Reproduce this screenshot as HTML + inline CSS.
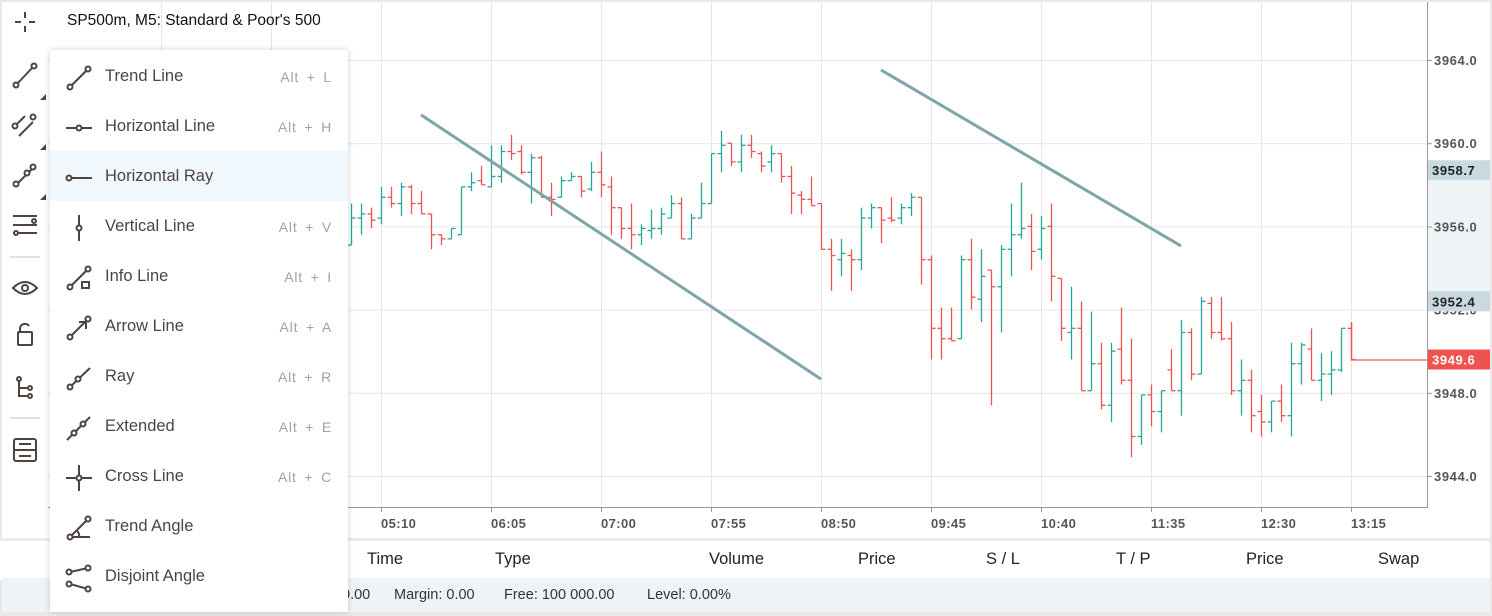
<!DOCTYPE html>
<html><head><meta charset="utf-8">
<style>
html,body{margin:0;padding:0;background:#e9e9e9;}
body{width:1492px;height:616px;position:relative;overflow:hidden;font-family:"Liberation Sans",sans-serif;}
#root{position:absolute;left:2px;top:2px;width:1488px;height:610px;background:#fff;}
.menu{position:absolute;left:50px;top:50px;width:298px;height:562px;background:#fff;box-shadow:0 0 6px rgba(0,0,0,0.18);}
.item{position:absolute;left:0;width:298px;height:50px;}
.item .lbl{position:absolute;left:55px;top:16px;font-size:16.5px;color:#4d4440;}
.item .sc{position:absolute;right:16px;top:18px;font-size:14px;color:#a7a09b;letter-spacing:0.8px;word-spacing:3px;}
.item svg{position:absolute;left:14px;top:12px;}
.hdr{position:absolute;top:550px;font-size:16.5px;color:#222;}
.ft{position:absolute;top:587px;font-size:14.5px;color:#333;}
</style></head><body>
<div id="root"></div>
<svg id="chart" width="1492" height="616" style="position:absolute;left:0;top:0"></svg>

<div style="position:absolute;left:0;top:538px;width:1490px;height:39px;background:#fff;border-top:3px solid #ececec;"></div>
<div style="position:absolute;left:2px;top:578px;width:1488px;height:34px;background:#eff3f7;"></div>
<span class="hdr" style="left:367px">Time</span>
<span class="hdr" style="left:495px">Type</span>
<span class="hdr" style="left:709px">Volume</span>
<span class="hdr" style="left:858px">Price</span>
<span class="hdr" style="left:986px">S / L</span>
<span class="hdr" style="left:1116px">T / P</span>
<span class="hdr" style="left:1246px">Price</span>
<span class="hdr" style="left:1378px">Swap</span>
<span class="ft" style="left:342px">0.00</span>
<span class="ft" style="left:394px">Margin: 0.00</span>
<span class="ft" style="left:504px">Free: 100 000.00</span>
<span class="ft" style="left:647px">Level: 0.00%</span>

<div style="position:absolute;left:67px;top:12px;font-size:15.5px;color:#111;">SP500m, M5: Standard &amp; Poor's 500</div>

<svg width="50" height="500" style="position:absolute;left:0;top:0" fill="none" stroke="#4d4440" stroke-width="2">
<g><path d="M25 12v6M25 26v6M15 22h6M29 22h6"/></g>
<g><path d="M17 84L33 67"/><circle cx="16" cy="85" r="2.5" fill="#fff"/><circle cx="34" cy="66" r="2.5" fill="#fff"/></g>
<g><path d="M13 128l12-12M19 136l14-14"/><circle cx="15" cy="126" r="2.5" fill="#fff"/><circle cx="33" cy="117" r="2.5" fill="#fff"/></g>
<g><path d="M15 186l20-20"/><circle cx="16" cy="184" r="2.5" fill="#fff"/><circle cx="27" cy="173" r="2.5" fill="#fff"/><circle cx="33" cy="167" r="2.5" fill="#fff"/></g>
<g><path d="M13 216h24M13 225h24M13 233h24"/><circle cx="34" cy="221" r="2" fill="#fff"/><circle cx="16" cy="233" r="2" fill="#fff"/></g>
<path d="M10 257h30M10 418h30" stroke="#e2e2e2"/>
<g><path d="M13 288q12-12 24 0q-12 12-24 0z"/><circle cx="25" cy="288" r="3"/></g>
<g><rect x="18" y="332" width="14" height="13" rx="1"/><path d="M20 332v-4a5 5 0 0 1 9-2"/></g>
<g><path d="M19 380v16h8M19 388h8"/><circle cx="19" cy="379" r="2"/><circle cx="30" cy="388" r="2"/><circle cx="30" cy="396" r="2"/></g>
<g><rect x="14" y="439" width="22" height="22" rx="2"/><path d="M14 450h22M19 444h12M19 456h12"/></g>
<path d="M40 100l6-6v6z M40 150l6-6v6z M40 200l6-6v6z" fill="#4d4440" stroke="none"/>
</svg>

<div class="menu">
 <div class="item" style="top:1px"><svg width="30" height="30" fill="none" stroke="#4d4440" stroke-width="2"><path d="M6 24L24 6"/><circle cx="6" cy="24" r="2.5" fill="#fff"/><circle cx="24" cy="6" r="2.5" fill="#fff"/></svg><span class="lbl">Trend Line</span><span class="sc">Alt + L</span></div>
 <div class="item" style="top:51px"><svg width="30" height="30" fill="none" stroke="#4d4440" stroke-width="2"><path d="M2 15h26"/><circle cx="15" cy="15" r="2.5" fill="#fff"/></svg><span class="lbl">Horizontal Line</span><span class="sc">Alt + H</span></div>
 <div class="item" style="top:101px;background:#f0f7fd"><svg width="30" height="30" fill="none" stroke="#4d4440" stroke-width="2"><path d="M6 15h22"/><circle cx="5" cy="15" r="2.5" fill="#fff"/></svg><span class="lbl">Horizontal Ray</span></div>
 <div class="item" style="top:151px"><svg width="30" height="30" fill="none" stroke="#4d4440" stroke-width="2"><path d="M15 2v26"/><circle cx="15" cy="15" r="2.5" fill="#fff"/></svg><span class="lbl">Vertical Line</span><span class="sc">Alt + V</span></div>
 <div class="item" style="top:201px"><svg width="30" height="30" fill="none" stroke="#4d4440" stroke-width="2"><path d="M6 24L24 6"/><circle cx="6" cy="24" r="2.5" fill="#fff"/><circle cx="24" cy="6" r="2.5" fill="#fff"/><rect x="18" y="19" width="7" height="6" fill="#fff"/></svg><span class="lbl">Info Line</span><span class="sc">Alt + I</span></div>
 <div class="item" style="top:251px"><svg width="30" height="30" fill="none" stroke="#4d4440" stroke-width="2"><path d="M6 24L22 8M15 9h7v7"/><circle cx="6" cy="24" r="2.5" fill="#fff"/><circle cx="24" cy="6" r="2.5" fill="#fff"/></svg><span class="lbl">Arrow Line</span><span class="sc">Alt + A</span></div>
 <div class="item" style="top:301px"><svg width="30" height="30" fill="none" stroke="#4d4440" stroke-width="2"><path d="M6 24L26 5"/><circle cx="6" cy="24" r="2.5" fill="#fff"/><circle cx="14" cy="16" r="2.5" fill="#fff"/></svg><span class="lbl">Ray</span><span class="sc">Alt + R</span></div>
 <div class="item" style="top:351px"><svg width="30" height="30" fill="none" stroke="#4d4440" stroke-width="2"><path d="M3 27L26 4"/><circle cx="10" cy="20" r="2.5" fill="#fff"/><circle cx="19" cy="11" r="2.5" fill="#fff"/></svg><span class="lbl">Extended</span><span class="sc">Alt + E</span></div>
 <div class="item" style="top:401px"><svg width="30" height="30" fill="none" stroke="#4d4440" stroke-width="2"><path d="M2 15h26M15 2v26"/><circle cx="15" cy="15" r="2.5" fill="#fff"/></svg><span class="lbl">Cross Line</span><span class="sc">Alt + C</span></div>
 <div class="item" style="top:451px"><svg width="30" height="30" fill="none" stroke="#4d4440" stroke-width="2"><path d="M6 24L24 6M6 24h20M12 17q4 3 3 7"/><circle cx="6" cy="24" r="2.5" fill="#fff"/><circle cx="24" cy="6" r="2.5" fill="#fff"/></svg><span class="lbl">Trend Angle</span></div>
 <div class="item" style="top:501px"><svg width="30" height="30" fill="none" stroke="#4d4440" stroke-width="2"><path d="M6 9l18-4M6 21l18 5"/><circle cx="5" cy="9" r="2.5" fill="#fff"/><circle cx="24" cy="5" r="2.5" fill="#fff"/><circle cx="5" cy="21" r="2.5" fill="#fff"/><circle cx="24" cy="26" r="2.5" fill="#fff"/></svg><span class="lbl">Disjoint Angle</span></div>
</div>

<script>
const opens=[3955.1,3956.4,3956.6,3956.4,3957.4,3957.1,3957.9,3957.1,3956.6,3955.6,3955.4,3955.6,3957.9,3958.2,3957.9,3958.4,3959.6,3959.6,3958.6,3959.3,3957.4,3957.4,3958.2,3958.4,3957.8,3958.6,3957.9,3956.9,3955.9,3955.6,3955.8,3955.9,3956.4,3957.1,3955.4,3956.4,3957.1,3959.5,3960.0,3959.1,3959.9,3959.5,3959.1,3959.5,3958.4,3957.5,3957.3,3957.1,3954.9,3954.4,3954.6,3954.4,3956.4,3956.9,3956.4,3956.4,3956.9,3957.4,3954.4,3951.1,3950.6,3950.6,3954.4,3952.5,3953.9,3953.1,3954.9,3955.6,3956.0,3954.9,3956.0,3953.5,3950.9,3951.1,3948.1,3949.4,3947.4,3950.1,3948.6,3945.9,3947.9,3947.1,3949.1,3948.1,3950.9,3948.9,3952.3,3950.9,3950.6,3948.1,3948.6,3947.1,3946.6,3947.6,3946.9,3949.4,3950.1,3948.6,3948.9,3949.1,3951.1];
const highs=[3957.1,3957.1,3956.9,3957.9,3957.9,3958.1,3958.0,3957.7,3956.6,3955.6,3955.9,3957.9,3958.6,3958.9,3959.9,3959.9,3960.4,3959.9,3959.5,3959.4,3958.1,3958.4,3958.6,3958.4,3959.1,3959.6,3958.4,3956.9,3957.1,3956.1,3956.8,3956.9,3957.5,3957.4,3956.6,3958.1,3959.5,3960.6,3960.0,3960.4,3960.4,3959.6,3959.9,3959.5,3958.9,3957.7,3958.4,3957.1,3955.4,3955.4,3954.9,3956.9,3957.1,3956.9,3957.4,3957.1,3957.6,3957.4,3954.6,3952.1,3952.1,3954.6,3955.4,3954.9,3953.9,3955.1,3957.1,3958.1,3956.6,3956.5,3957.1,3953.5,3953.1,3952.4,3951.9,3950.4,3950.4,3952.1,3950.6,3947.9,3948.4,3948.1,3950.1,3951.5,3951.1,3952.6,3952.6,3952.6,3951.4,3949.6,3949.1,3947.9,3947.6,3948.4,3950.4,3950.4,3951.1,3949.9,3950.0,3951.1,3951.4];
const lows=[3955.1,3955.6,3955.9,3956.1,3956.9,3956.5,3956.6,3956.6,3954.9,3955.1,3955.4,3955.6,3957.7,3958.0,3957.9,3958.1,3959.2,3958.5,3957.1,3957.4,3956.5,3957.4,3958.2,3957.4,3957.7,3957.4,3955.6,3955.4,3954.9,3955.1,3955.4,3955.6,3956.4,3955.4,3955.4,3956.4,3957.1,3958.6,3958.9,3958.6,3959.3,3958.6,3958.6,3958.1,3956.6,3956.6,3957.0,3954.9,3952.9,3953.6,3952.9,3953.9,3955.9,3955.2,3956.2,3956.1,3956.5,3953.2,3949.6,3949.6,3950.5,3950.6,3952.0,3951.4,3947.4,3950.9,3953.6,3955.4,3953.9,3954.4,3952.4,3950.5,3949.6,3948.1,3948.1,3947.2,3946.6,3948.4,3944.9,3945.5,3946.4,3946.1,3948.1,3946.9,3948.6,3948.9,3950.6,3950.5,3947.9,3946.9,3946.1,3945.9,3946.1,3946.6,3945.9,3948.4,3948.6,3947.6,3947.9,3949.0,3949.6];
const closes=[3956.4,3956.6,3956.3,3957.4,3957.1,3957.9,3957.1,3956.6,3955.6,3955.4,3955.9,3957.9,3958.1,3958.0,3958.4,3959.6,3959.5,3958.6,3959.3,3957.4,3957.3,3958.2,3958.4,3957.7,3958.6,3958.0,3956.9,3955.9,3955.6,3955.9,3955.9,3956.6,3957.1,3955.4,3956.4,3957.1,3959.5,3959.9,3959.1,3959.9,3959.6,3958.9,3959.5,3958.4,3957.6,3957.3,3957.0,3954.9,3954.6,3954.7,3954.4,3956.4,3956.9,3956.3,3956.3,3956.9,3957.4,3954.4,3951.1,3950.6,3950.5,3954.4,3952.6,3953.6,3953.1,3954.9,3955.6,3955.9,3954.8,3955.9,3953.6,3951.1,3951.1,3948.1,3949.4,3947.4,3950.0,3948.6,3945.9,3947.9,3947.1,3948.1,3948.1,3950.9,3948.9,3952.4,3950.9,3950.6,3948.1,3948.6,3946.9,3946.6,3947.6,3946.9,3949.4,3950.3,3948.6,3948.9,3949.1,3951.1,3949.6];
const priceTicks=[3964.0,3960.0,3956.0,3952.0,3948.0,3944.0];
const timeLabels=["05:10","06:05","07:00","07:55","08:50","09:45","10:40","11:35","12:30","13:15"];
const timeLabelBars=[3,14,25,36,47,58,69,80,91,100];
const trend1=[[7,3961.36],[47,3948.66]];
const trend2=[[53,3963.52],[83,3955.06]];
const markers=[{v:3958.7,bg:"#c8dadf",fg:"#222"},{v:3952.4,bg:"#c8dadf",fg:"#222"},{v:3949.6,bg:"#ef5350",fg:"#fff"}];

const NS="http://www.w3.org/2000/svg";
const svg=document.getElementById('chart');
const X=i=>351+10*i;
const Y=p=>60+(3964-p)*20.8;
function mk(t,a,parent){const e=document.createElementNS(NS,t);for(const k in a)e.setAttribute(k,a[k]);(parent||svg).appendChild(e);return e;}
const bg=mk('rect',{x:2,y:2,width:1488,height:536,fill:'#fff'});


const band=mk('rect',{x:1428,y:Y(3958.7),width:62,height:Y(3952.4)-Y(3958.7),fill:'#eef3f6'});


const grid=mk('g',{stroke:'#e6e6e6','stroke-width':1});


priceTicks.forEach(p=>{mk('line',{x1:48,x2:1427,y1:Y(p)+0.5,y2:Y(p)+0.5},grid);});
const vb=[-19,-8,3,14,25,36,47,58,69,80,91,100];
vb.forEach(i=>{mk('line',{x1:X(i)+0.5,x2:X(i)+0.5,y1:2,y2:507},grid);});
const ax=mk('path',{d:'M1427.5 2V507.5H48',stroke:'#9a9a9a',fill:'none','stroke-width':1});


priceTicks.forEach(p=>{
  mk('line',{x1:1427,x2:1432,y1:Y(p)+0.5,y2:Y(p)+0.5,stroke:'#9a9a9a'});
  const t=mk('text',{x:1434,y:Y(p)+5,'font-size':13,'font-weight':'bold',fill:'#555','letter-spacing':0.6,'font-family':'Liberation Sans, sans-serif'});
  t.textContent=p.toFixed(1);
  
  
});
timeLabels.forEach((s,k)=>{
  const x=X(timeLabelBars[k]);
  mk('line',{x1:x+0.5,x2:x+0.5,y1:507,y2:512,stroke:'#9a9a9a'});
  const t=mk('text',{x:x,y:528,'font-size':13,'font-weight':'bold',fill:'#555','letter-spacing':0.4,'font-family':'Liberation Sans, sans-serif'});
  t.textContent=s;
  
  
});
const bars=mk('g',{'stroke-width':1.3});


for(let i=0;i<opens.length;i++){
  const up=closes[i]>=opens[i];const c=up?'#26a69a':'#ef5350';
  const g=mk('g',{stroke:c},bars);
  
  
  const x=X(i)+0.5;
  mk('line',{x1:x,x2:x,y1:Y(highs[i]),y2:Y(lows[i])},g);
  mk('line',{x1:x-4,x2:x,y1:Y(opens[i]),y2:Y(opens[i])},g);
  mk('line',{x1:x,x2:x+4,y1:Y(closes[i]),y2:Y(closes[i])},g);
}
[trend1,trend2].forEach((t,k)=>{
  const l=mk('line',{x1:X(t[0][0]),y1:Y(t[0][1]),x2:X(t[1][0]),y2:Y(t[1][1]),stroke:'#7ea5a9','stroke-width':3});
  
  
});
const last=closes[closes.length-1];
const lp=mk('path',{d:`M${X(100)+0.5} ${Y(highs[100])} V${Y(last)+0.5} H1428`,stroke:'#ef5350',fill:'none','stroke-width':1.3});


markers.forEach(m=>{
  const g=mk('g',{});
  
  
  mk('rect',{x:1428,y:Y(m.v)-10,width:62,height:20,fill:m.bg},g);
  const t=mk('text',{x:1432,y:Y(m.v)+5,'font-size':13,'font-weight':'bold',fill:m.fg,'letter-spacing':0.6,'font-family':'Liberation Sans, sans-serif'},g);
  t.textContent=m.v.toFixed(1);
});
</script>
</body></html>
